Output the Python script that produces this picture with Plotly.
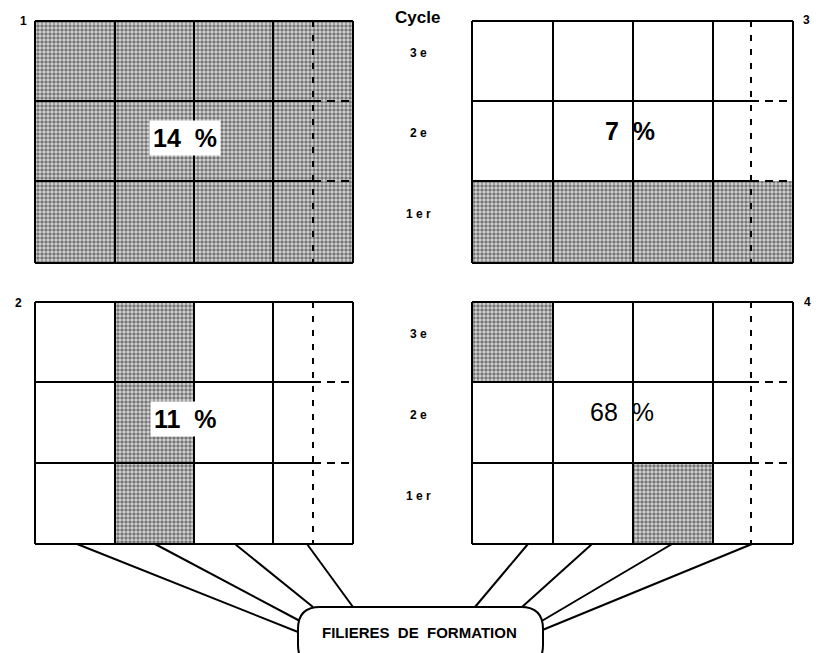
import plotly.graph_objects as go

# ---------------- data ----------------
cycles = ["3e", "2e", "1er"]              # rows, top to bottom
panel_ids = ["1", "3", "2", "4"]
panel_pct = ["14 %", "7 %", "11 %", "68 %"]
# shading matrix per panel: rows (3e, 2e, 1er) x 4 columns (filières)
shade_1 = [[1, 1, 1, 1], [1, 1, 1, 1], [1, 1, 1, 1]]
shade_3 = [[0, 0, 0, 0], [0, 0, 0, 0], [1, 1, 1, 1]]
shade_2 = [[0, 1, 0, 0], [0, 1, 0, 0], [0, 1, 0, 0]]
shade_4 = [[1, 0, 0, 0], [0, 0, 0, 0], [0, 0, 1, 0]]
box_label = "FILIERES DE FORMATION"
axis_title = "Cycle"

# ---------------- layout geometry (pixel-like units) ----------------
W, H = 820, 653
COL_L = [35, 115, 194, 273, 353]
COL_R = [472, 553, 633, 713, 793]
ROW_T = [21, 101, 181, 263]
ROW_B = [302, 382, 463, 544]
DASH_L, DASH_R = 313, 751

panels = [
    dict(cols=COL_L, rows=ROW_T, shade=shade_1, dash=DASH_L, pid=panel_ids[0],
         pid_xy=(23, 21), pct=panel_pct[0], pct_xy=(185, 138), bold=True, bg=True),
    dict(cols=COL_R, rows=ROW_T, shade=shade_3, dash=DASH_R, pid=panel_ids[1],
         pid_xy=(806, 20), pct=panel_pct[1], pct_xy=(630, 131), bold=True, bg=False),
    dict(cols=COL_L, rows=ROW_B, shade=shade_2, dash=DASH_L, pid=panel_ids[2],
         pid_xy=(18, 303), pct=panel_pct[2], pct_xy=(185, 419), bold=True, bg=True),
    dict(cols=COL_R, rows=ROW_B, shade=shade_4, dash=DASH_R, pid=panel_ids[3],
         pid_xy=(807, 302), pct=panel_pct[3], pct_xy=(622, 412), bold=False, bg=False),
]

fig = go.Figure()
shapes = []
annotations = []
FONT = "Liberation Sans, Arial, sans-serif"
LW = 2

for p in panels:
    cols, rows = p["cols"], p["rows"]
    xs, ys = [], []
    for r, row in enumerate(p["shade"]):
        for c, v in enumerate(row):
            if v:
                x0, x1 = cols[c], cols[c + 1]
                y0, y1 = rows[r], rows[r + 1]
                xs += [x0, x1, x1, x0, x0, None]
                ys += [y0, y0, y1, y1, y0, None]
    if xs:
        fig.add_trace(go.Scatter(
            x=xs, y=ys, mode="lines", fill="toself",
            line=dict(width=0, color="rgba(0,0,0,0)"),
            fillcolor="#a0a0a0",
            fillpattern=dict(shape=".", size=4, solidity=0.6,
                             fgcolor="#141414", bgcolor="#d8d8d8"),
            hoverinfo="skip", showlegend=False))
    # vertical grid lines
    for x in cols:
        shapes.append(dict(type="line", x0=x, x1=x, y0=rows[0], y1=rows[-1],
                           line=dict(color="black", width=LW)))
    # horizontal lines: outer full, inner solid up to dashed column then dashed
    for i, y in enumerate(rows):
        if i in (0, len(rows) - 1):
            shapes.append(dict(type="line", x0=cols[0], x1=cols[-1], y0=y, y1=y,
                               line=dict(color="black", width=LW)))
        else:
            shapes.append(dict(type="line", x0=cols[0], x1=p["dash"], y0=y, y1=y,
                               line=dict(color="black", width=LW)))
            shapes.append(dict(type="line", x0=p["dash"], x1=cols[-1], y0=y, y1=y,
                               line=dict(color="black", width=LW, dash="8px,6px")))
    # dashed vertical in last column
    shapes.append(dict(type="line", x0=p["dash"], x1=p["dash"], y0=rows[0], y1=rows[-1],
                       line=dict(color="black", width=LW, dash="6px,8px")))
    # panel number
    annotations.append(dict(x=p["pid_xy"][0], y=p["pid_xy"][1], text=f"<b>{p['pid']}</b>",
                            showarrow=False, font=dict(size=12, color="black", family=FONT)))
    # percentage label
    txt = p["pct"].replace(" ", "&nbsp;&nbsp;")
    txt = f"<b>{txt}</b>" if p["bold"] else txt
    annotations.append(dict(x=p["pct_xy"][0], y=p["pct_xy"][1], text=txt,
                            showarrow=False,
                            bgcolor="white" if p["bg"] else "rgba(0,0,0,0)",
                            borderpad=3,
                            font=dict(size=25, color="black", family=FONT)))

# cycle labels (row labels in the middle column)
annotations.append(dict(x=417, y=17, text=f"<b>{axis_title}</b>", showarrow=False,
                        font=dict(size=17, color="black", family=FONT)))
for rows in (ROW_T, ROW_B):
    for i, lab in enumerate(cycles):
        yc = (rows[i] + rows[i + 1]) / 2 - 8
        annotations.append(dict(x=418, y=yc, text="<b>" + " ".join(lab) + "</b>",
                                showarrow=False,
                                font=dict(size=12, color="black", family=FONT)))

# connectors from the panels' bottom to the box
conn_start_x = [77, 155, 235, 307, 528, 592, 672, 752]
conn_end = [(298, 632), (300, 621), (313, 607), (353, 607),
            (475, 607), (522, 607), (540, 622), (540, 631)]
for sx, (ex, ey) in zip(conn_start_x, conn_end):
    shapes.append(dict(type="line", x0=sx, y0=ROW_B[-1], x1=ex, y1=ey,
                       line=dict(color="black", width=LW)))

# rounded box
bx0, bx1, by0, by1, rr = 298, 543, 607, 667, 22
path = (f"M {bx0+rr},{by0} L {bx1-rr},{by0} Q {bx1},{by0} {bx1},{by0+rr} "
        f"L {bx1},{by1-rr} Q {bx1},{by1} {bx1-rr},{by1} L {bx0+rr},{by1} "
        f"Q {bx0},{by1} {bx0},{by1-rr} L {bx0},{by0+rr} Q {bx0},{by0} {bx0+rr},{by0} Z")
shapes.append(dict(type="path", path=path, fillcolor="white",
                   line=dict(color="black", width=LW)))
annotations.append(dict(x=419, y=632, text="<b>" + box_label.replace(" ", "&nbsp;&nbsp;") + "</b>",
                        showarrow=False,
                        font=dict(size=15, color="black", family=FONT)))

fig.update_layout(
    width=W, height=H, margin=dict(l=0, r=0, t=0, b=0),
    paper_bgcolor="white", plot_bgcolor="white",
    xaxis=dict(range=[0, W], visible=False, fixedrange=True),
    yaxis=dict(range=[H, 0], visible=False, fixedrange=True),
    shapes=shapes, annotations=annotations, showlegend=False,
)
fig.write_html("out.html", config={"displayModeBar": False},
               post_script="document.body.style.margin='0';document.body.style.overflow='hidden';")
